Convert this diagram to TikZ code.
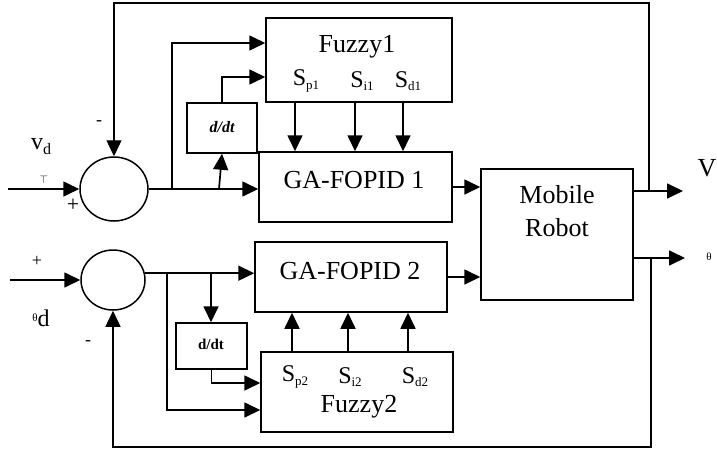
\documentclass[tikz,border=0pt]{standalone}
\usepackage{fontspec}
\setmainfont{Liberation Serif}
\usetikzlibrary{arrows.meta,shapes.geometric}
\newcommand{\Ssb}[1]{S\raisebox{-3.5pt}{\fontsize{13}{13}\selectfont #1}}
\begin{document}
\begin{tikzpicture}[x=1pt,y=-1pt,
  blk/.style={draw,line width=1.5pt,rectangle,inner sep=0pt},
  sumnode/.style={draw,line width=1.5pt,ellipse,inner sep=0pt},
  wire/.style={line width=1.7pt},
  fbwire/.style={line width=1.4pt},
  arr/.style={wire,-{Triangle[length=16pt,width=15pt]}},
  fbarr/.style={fbwire,-{Triangle[length=16pt,width=15pt]}},
  big/.style={font=\fontsize{26}{33}\selectfont,inner sep=0pt},
  slab/.style={font=\fontsize{24}{26}\selectfont,inner sep=0pt},
  sgn/.style={font=\fontsize{22}{22}\selectfont,inner sep=0pt},
  ddt/.style={font=\fontsize{15}{15}\selectfont\bfseries,inner sep=0pt}
]
\useasboundingbox (0,0) rectangle (717,450);

% blocks
\node[sumnode,minimum width=68pt,minimum height=64pt] (sum1) at (114,189) {};
\node[sumnode,minimum width=64pt,minimum height=60pt] (sum2) at (113,280) {};
\node[blk,minimum width=186pt,minimum height=84pt] (fuzzy1) at (359,60) {};
\node[blk,minimum width=70pt,minimum height=50pt] (dd1) at (222,128) {};
\node[blk,minimum width=193pt,minimum height=70pt] (ga1) at (355.5,187) {};
\node[blk,minimum width=152pt,minimum height=131pt] (robot) at (557,234.5) {};
\node[blk,minimum width=192pt,minimum height=70pt] (ga2) at (351,277) {};
\node[blk,minimum width=71pt,minimum height=46pt] (dd2) at (211.5,346) {};
\node[blk,minimum width=192pt,minimum height=80pt] (fuzzy2) at (357,392) {};

% texts
\node[big] (tfz1) at (357,47) {Fuzzy1};
\node[slab] (tsp1) at (306,81) {\Ssb{p1}};
\node[slab] (tsi1) at (362,81) {\Ssb{i1}};
\node[slab] (tsd1) at (408,81) {\Ssb{d1}};
\node[ddt,font=\fontsize{16}{16}\selectfont\bfseries\itshape] (tdd1) at (222,127) {d/dt};
\node[big] (tga1) at (354,180) {GA-FOPID 1};
\node[big,align=center] (trob) at (557,211) {Mobile\\Robot};
\node[big] (tga2) at (350,271) {GA-FOPID 2};
\node[ddt] (tdd2) at (211,344) {d/dt};
\node[slab] (tsp2) at (295,377) {\Ssb{p2}};
\node[slab] (tsi2) at (350,377) {\Ssb{i2}};
\node[slab] (tsd2) at (415,377) {\Ssb{d2}};
\node[big] (tfz2) at (359,407) {Fuzzy2};

% signal labels
\node[inner sep=0pt] (lvd) at (41,147) {{\fontsize{24}{24}\selectfont v}\raisebox{-5pt}{\fontsize{16}{16}\selectfont d}};
\node[inner sep=0pt,font=\fontsize{11}{11}\selectfont] (ltop) at (44,180) {$\top$};
\node[sgn] (lp1) at (73,205) {+};
\node[sgn,font=\fontsize{18}{18}\selectfont] (lm1) at (99,123) {-};
\node[sgn,font=\fontsize{18}{18}\selectfont] (lp2) at (37,261) {+};
\node[inner sep=0pt] (lthd) at (41,318) {\raisebox{5pt}{\fontsize{11}{11}\selectfont θ}{\fontsize{24}{24}\selectfont d}};
\node[sgn,font=\fontsize{18}{18}\selectfont] (lm2) at (88,343) {-};
\node[inner sep=0pt,font=\fontsize{26}{26}\selectfont] (lV) at (707,168) {V};
\node[inner sep=0pt,font=\fontsize{11}{11}\selectfont] (lth) at (709,257) {θ};

% coordinates
\coordinate (in1) at (8,189);
\coordinate (in2) at (10,280);
\coordinate (j1) at (172,189);
\coordinate (j2) at (219,189);
\coordinate (k1) at (167,273);
\coordinate (k2) at (211,273);
\coordinate (vtap) at (649,191);
\coordinate (vout) at (683,191);
\coordinate (ttap) at (651,258);
\coordinate (tout) at (685,258);
\coordinate (topy) at (0,3);
\coordinate (boty) at (0,447);
\coordinate (xp1) at (295,0);
\coordinate (xi1) at (355,0);
\coordinate (xd1) at (403,0);
\coordinate (xp2) at (292,0);
\coordinate (xi2) at (348,0);
\coordinate (xd2) at (408,0);

% upper loop
\draw[arr] (in1) -- (sum1.west);
\draw[arr] (sum1.east) -- (ga1.west |- sum1.east);
\draw[arr] (j1) |- ([yshift=17pt]fuzzy1.west);
\draw[arr] (j2) -- (dd1.south);
\draw[arr] (dd1.north) |- ([yshift=-17pt]fuzzy1.west);
\draw[arr] (fuzzy1.south -| xp1) -- (ga1.north -| xp1);
\draw[arr] (fuzzy1.south -| xi1) -- (ga1.north -| xi1);
\draw[arr] (fuzzy1.south -| xd1) -- (ga1.north -| xd1);
\draw[arr] (ga1.east) -- (robot.west |- ga1.east);
\draw[arr] (robot.east |- vtap) -- (vout);
\draw[fbarr] (vtap) -- (vtap |- topy) -- (sum1.north |- topy) -- (sum1.north);

% lower loop
\draw[arr] (in2) -- (sum2.west);
\draw[arr] (sum2.12) -- (ga2.west |- sum2.12);
\draw[arr] (k2) -- (dd2.north -| k2);
\draw[arr] (k1) |- ([yshift=-18pt]fuzzy2.west);
\draw[arr] (dd2.south) |- ([yshift=9pt]fuzzy2.west);
\draw[arr] (fuzzy2.north -| xp2) -- (ga2.south -| xp2);
\draw[arr] (fuzzy2.north -| xi2) -- (ga2.south -| xi2);
\draw[arr] (fuzzy2.north -| xd2) -- (ga2.south -| xd2);
\draw[arr] (ga2.east) -- (robot.west |- ga2.east);
\draw[arr] (robot.east |- ttap) -- (tout);
\draw[fbarr] (ttap) -- (ttap |- boty) -- (sum2.south |- boty) -- (sum2.south);
\end{tikzpicture}
\end{document}
